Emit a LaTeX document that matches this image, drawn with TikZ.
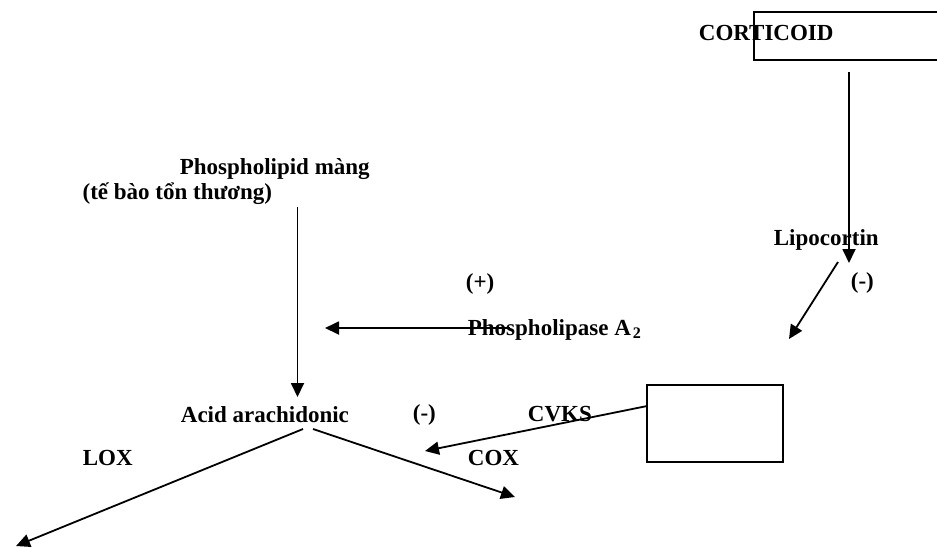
\documentclass[tikz,border=0pt]{standalone}
\usepackage{fontspec}
\setmainfont{Liberation Serif}
\usetikzlibrary{arrows.meta}

\begin{document}
\begin{tikzpicture}[
    x=0.5pt, y=-0.5pt,
    >={Triangle[length=7pt,width=6.5pt]},
    line width=0.9pt,
    font=\fontsize{11.5}{13.8}\selectfont\bfseries,
    lbl/.style={inner sep=0pt, anchor=base west},
    frame/.style={
      rectangle,
      draw,
      inner sep=0pt,
      anchor=north west
    }
  ]
    \useasboundingbox (0,0) rectangle (937,547);
    % boxes
    \node[frame, minimum width=100pt, minimum height=24pt] (cortbox) at (753,11) {};
    \node[frame, minimum width=68pt, minimum height=38.5pt] (cvksbox) at (646,384) {};
    % labels
    \node[lbl] (cort)   at (698,40)  {CORTICOID};
    \node[lbl] (lipo)   at (773,245) {Lipocortin};
    \node[lbl] (minus1) at (850,288) {(-)};
    \node[lbl] (phos)   at (179,174) {Phospholipid màng};
    \node[lbl, anchor=base east] (cell) at (273,199) {(tế bào tổn thương)};
    \node[lbl] (plus)   at (465,289) {(+)};
    \node[lbl] (pla)    at (467,335) {Phospholipase A\kern1pt\textsubscript{2}};
    \node[lbl] (acid)   at (180,422) {Acid arachidonic};
    \node[lbl] (minus2) at (412,420) {(-)};
    \node[lbl] (cvks)   at (527,421) {CVKS};
    \node[lbl] (lox)    at (82,465)  {LOX};
    \node[lbl] (cox)    at (467,465) {COX};
    % free arrow ends
    \coordinate (cortout) at (849,72);
    \coordinate (lipoin)  at (849,263);
    \coordinate (lipoout) at (838,262);
    \coordinate (lipoend) at (789,339);
    \coordinate (phosout) at (297.5,207);
    \coordinate (acidin)  at (297.5,397);
    \coordinate (plaout)  at (510,328);
    \coordinate (plaend)  at (325,328);
    \coordinate (cvksend) at (425,451);
    \coordinate (loxout)  at (303,429);
    \coordinate (loxend)  at (16,546);
    \coordinate (coxout)  at (313,429);
    \coordinate (coxend)  at (515,497);
    \begin{scope}[->]
      \draw (cortout) -- (lipoin);
      \draw (lipoout) -- (lipoend);
      \draw (phosout) -- (acidin);
      \draw (plaout)  -- (plaend);
      \draw (cvksbox.166) -- (cvksend);
      \draw (loxout)  -- (loxend);
      \draw (coxout)  -- (coxend);
    \end{scope}
  \end{tikzpicture}
\end{document}
